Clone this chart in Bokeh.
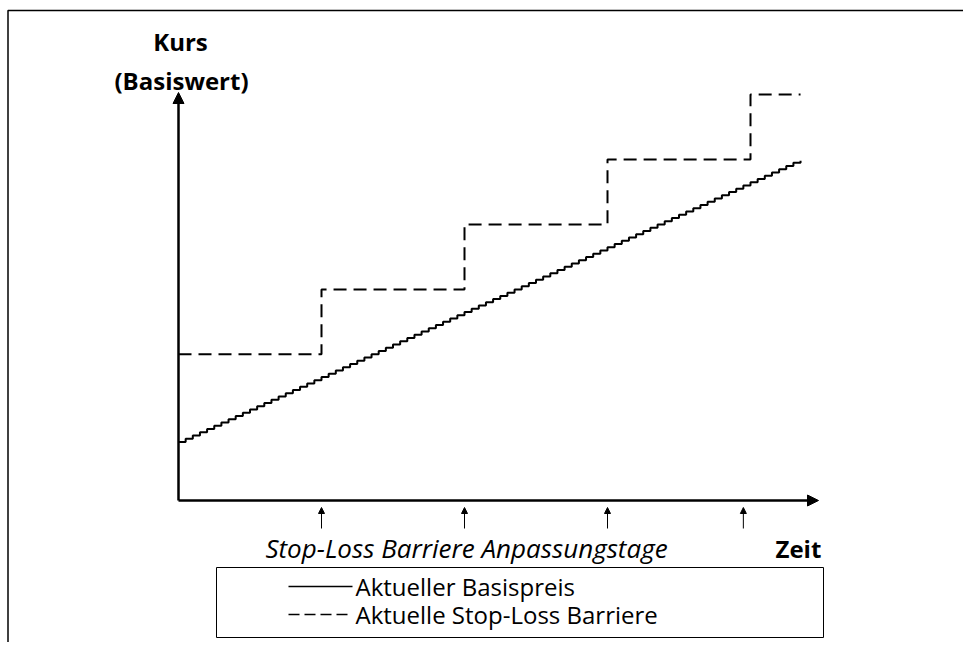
from bokeh.plotting import figure
from bokeh.models import Range1d, Arrow, NormalHead, Label, BoxAnnotation
from bokeh.embed import file_html
from bokeh.resources import INLINE

# ---- data ----
days = list(range(0, 88))
price = [9.0, 9.5, 10.0, 10.5, 11.0, 11.5, 12.0, 12.5, 13.0, 13.5,
         14.0, 14.5, 15.0, 15.5, 16.0, 16.5, 17.0, 17.5, 18.0, 18.5,
         19.0, 19.5, 20.0, 20.5, 21.0, 21.5, 22.0, 22.5, 23.0, 23.5,
         24.0, 24.5, 25.0, 25.5, 26.0, 26.5, 27.0, 27.5, 28.0, 28.5,
         29.0, 29.5, 30.0, 30.5, 31.0, 31.5, 32.0, 32.5, 33.0, 33.5,
         34.0, 34.5, 35.0, 35.5, 36.0, 36.5, 37.0, 37.5, 38.0, 38.5,
         39.0, 39.5, 40.0, 40.5, 41.0, 41.5, 42.0, 42.5, 43.0, 43.5,
         44.0, 44.5, 45.0, 45.5, 46.0, 46.5, 47.0, 47.5, 48.0, 48.5,
         49.0, 49.5, 50.0, 50.5, 51.0, 51.5, 52.0, 52.3]
barrier_days = [0, 20, 40, 60, 80, 87]
barrier_level = [22.5, 32.5, 42.5, 52.5, 62.5, 62.5]
adjust_days = [20, 40, 60, 79]

y_title = ["Kurs", "(Basiswert)"]
x_title = "Zeit"
adjust_label = "Stop-Loss Barriere Anpassungstage"
legend_labels = ["Aktueller Basispreis", "Aktuelle Stop-Loss Barriere"]

# ---- layout ----
W, H = 963, 642
OFF = 0            # page offset of the canvas
PX_DAY = 7.15
PX_UNIT = 6.496
OX, OY = 178, 500  # page pixel position of the origin

X0 = -(OX - OFF) / PX_DAY
X1 = X0 + W / PX_DAY
Y1 = (OY - OFF) / PX_UNIT
Y0 = Y1 - H / PX_UNIT


def dx(px):
    return X0 + (px - OFF) / PX_DAY


def dy(py):
    return Y1 - (py - OFF) / PX_UNIT


p = figure(width=W, height=H, x_range=Range1d(X0, X1), y_range=Range1d(Y0, Y1),
           output_backend="svg", toolbar_location=None, min_border=0)
p.axis.visible = False
p.grid.visible = False
p.outline_line_color = None
p.background_fill_color = "white"

FONT = "Open Sans"

# page border
p.add_layout(BoxAnnotation(left=dx(7.5), right=dx(3000), top=dy(10), bottom=dy(3000),
                           fill_alpha=0, line_color="black", line_alpha=1, line_width=1.5))

# series
p.step(days, price, mode="after", line_color="black", line_width=2)
p.step(barrier_days, barrier_level, mode="after", line_color="black",
       line_width=2, line_dash="13 7")

# axes as arrows
p.add_layout(Arrow(x_start=0, y_start=0, x_end=dx(818), y_end=0, line_width=2.5,
                   end=NormalHead(size=11, fill_color="black", line_color="black")))
p.add_layout(Arrow(x_start=0, y_start=0, x_end=0, y_end=dy(92), line_width=2.5,
                   end=NormalHead(size=11, fill_color="black", line_color="black")))

# adjustment-day arrows
for d in adjust_days:
    p.add_layout(Arrow(x_start=d, y_start=dy(528), x_end=d, y_end=dy(507), line_width=1,
                       end=NormalHead(size=6, fill_color="black", line_color="black")))

# titles
p.add_layout(Label(x=dx(180), y=dy(41), text=y_title[0], text_font=FONT,
                   text_font_size="24px", text_font_style="bold", text_color="black",
                   text_align="center", text_baseline="middle"))
p.add_layout(Label(x=dx(181), y=dy(80), text=y_title[1], text_font=FONT,
                   text_font_size="24px", text_font_style="bold", text_color="black",
                   text_align="center", text_baseline="middle"))
p.add_layout(Label(x=dx(775), y=dy(548), text=x_title, text_font=FONT,
                   text_font_size="24px", text_font_style="bold", text_color="black",
                   text_align="left", text_baseline="middle"))
p.add_layout(Label(x=dx(466), y=dy(547), text=adjust_label, text_font=FONT,
                   text_font_size="26px", text_font_style="italic", text_color="black",
                   text_align="center", text_baseline="middle"))

# legend
p.add_layout(BoxAnnotation(left=dx(216), right=dx(823), top=dy(567), bottom=dy(637),
                           fill_alpha=0, line_color="black", line_alpha=1, line_width=1))
p.line([dx(288), dx(352)], [dy(586), dy(586)], line_color="black", line_width=1.5)
p.line([dx(288), dx(352)], [dy(614), dy(614)], line_color="black", line_width=1.5,
       line_dash="11 5")
p.add_layout(Label(x=dx(355), y=dy(586), text=legend_labels[0], text_font=FONT,
                   text_font_size="24px", text_color="black",
                   text_align="left", text_baseline="middle"))
p.add_layout(Label(x=dx(355), y=dy(614), text=legend_labels[1], text_font=FONT,
                   text_font_size="24px", text_color="black",
                   text_align="left", text_baseline="middle"))

open("out.html", "w").write(file_html(p, INLINE))
